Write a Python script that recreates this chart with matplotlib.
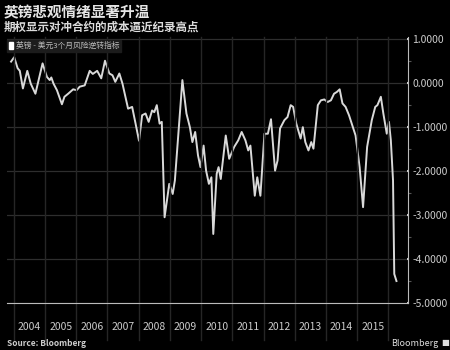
import numpy as np
import matplotlib
matplotlib.use("Agg")
import matplotlib.pyplot as plt
from matplotlib.patches import Patch
from matplotlib.ticker import MultipleLocator, FixedLocator

plt.rcParams['font.family'] = ['Noto Sans CJK SC', 'DejaVu Sans']

title = "英镑悲观情绪显著升温"
subtitle = "期权显示对冲合约的成本逼近纪录高点"
series_name = "英镑 - 美元3个月风险逆转指标"
source = "Source: Bloomberg"

years = [2004, 2005, 2006, 2007, 2008, 2009, 2010, 2011, 2012, 2013, 2014, 2015]

# decimal year, value
t = [2003.91, 2004.01, 2004.12, 2004.19, 2004.29, 2004.43, 2004.54, 2004.69, 2004.92,
     2005.06, 2005.15, 2005.20, 2005.27, 2005.38, 2005.54, 2005.62, 2005.74, 2005.90,
     2006.01, 2006.11, 2006.27, 2006.43, 2006.53, 2006.67, 2006.80, 2006.92,
     2007.06, 2007.16, 2007.25, 2007.38, 2007.48, 2007.66, 2007.79, 2007.90,
     2008.01, 2008.11, 2008.22, 2008.32, 2008.43, 2008.50, 2008.58, 2008.67, 2008.74,
     2008.83, 2008.98, 2009.09, 2009.16, 2009.40, 2009.53, 2009.64, 2009.72, 2009.81,
     2009.90, 2009.98, 2010.08, 2010.16, 2010.25, 2010.33, 2010.39, 2010.50, 2010.56,
     2010.63, 2010.79, 2010.90, 2011.06, 2011.19, 2011.30, 2011.42, 2011.51, 2011.58,
     2011.72, 2011.80, 2011.90, 2012.03, 2012.14, 2012.24, 2012.37, 2012.45, 2012.53,
     2012.67, 2012.77, 2012.87, 2012.95, 2013.05, 2013.19, 2013.26, 2013.34, 2013.44,
     2013.53, 2013.60, 2013.74, 2013.84, 2013.95, 2014.05, 2014.16, 2014.26, 2014.35,
     2014.44, 2014.53, 2014.63, 2014.74, 2014.95, 2015.08, 2015.19, 2015.32, 2015.47,
     2015.58, 2015.65, 2015.76, 2015.84, 2015.95, 2016.02, 2016.08, 2016.15, 2016.19,
     2016.26]
v = [0.49, 0.59, 0.34, 0.28, -0.12, 0.28, -0.01, -0.24, 0.45,
     0.14, 0.07, 0.13, -0.01, -0.16, -0.48, -0.31, -0.24, -0.14,
     -0.16, -0.08, -0.05, 0.28, 0.21, 0.28, 0.11, 0.51,
     0.22, 0.18, 0.03, 0.22, -0.01, -0.58, -0.54, -0.92,
     -1.31, -0.73, -0.69, -0.88, -0.62, -0.66, -0.50, -0.92, -0.88,
     -3.05, -2.29, -2.52, -2.21, 0.07, -0.69, -1.00, -1.34, -1.11,
     -1.64, -1.91, -1.42, -1.99, -2.29, -2.14, -3.43, -2.06, -1.91,
     -2.18, -1.19, -1.72, -1.45, -1.30, -1.11, -1.30, -1.53, -1.42,
     -2.56, -2.14, -2.56, -1.15, -1.15, -0.82, -1.99, -1.76, -1.03,
     -0.84, -0.77, -0.50, -0.54, -0.92, -1.26, -1.00, -1.34, -1.53,
     -1.34, -1.49, -0.50, -0.39, -0.37, -0.43, -0.39, -0.24, -0.20,
     -0.14, -0.46, -0.54, -0.73, -1.19, -1.91, -2.82, -1.45, -0.84,
     -0.54, -0.50, -0.31, -0.69, -1.15, -0.88, -1.30, -2.21, -4.34,
     -4.50]

fig = plt.figure(figsize=(4.5, 3.5), dpi=100, facecolor='black')
ax = fig.add_axes([7 / 450, 1 - 303 / 350, 401 / 450, 266 / 350])
ax.set_facecolor('black')

ax.plot(t, v, color='#d9d9d9', lw=1.4, solid_joinstyle='round')

ax.set_xlim(2003.78, 2016.63)
ax.set_ylim(-5, 1.05)

ax.yaxis.tick_right()
ax.yaxis.set_major_locator(FixedLocator(np.arange(-5, 1.01, 1)))
ax.yaxis.set_minor_locator(MultipleLocator(0.5))
ax.set_yticklabels([f"{x:.4f}" for x in np.arange(-5, 1.01, 1)])
ax.tick_params(axis='y', which='major', colors='#cccccc', labelsize=7.5,
               length=2, width=1.5, pad=2, direction='inout')
ax.tick_params(axis='y', which='minor', colors='#555555', length=2, width=0.8)

# vertical year boundaries, labels centred between
ax.set_xticks(years + [2016])
ax.set_xticklabels([])
ax.tick_params(axis='x', length=0)
for y in years:
    ax.text(y + 0.5, -0.092, str(y), transform=ax.get_xaxis_transform(),
            ha='center', va='center', color='#cccccc', fontsize=7.5)
for y in years + [2016]:
    ax.axvline(y, ymin=-0.14, ymax=1, color='#262626', lw=1, clip_on=False)

ax.grid(axis='y', which='major', color='#2e2e2e', lw=0.9)

for s in ['top', 'left']:
    ax.spines[s].set_visible(False)
ax.spines['right'].set_color('#bbbbbb')
ax.spines['bottom'].set_color('#bbbbbb')

handle = Patch(facecolor='white', edgecolor='white')
leg = ax.legend([handle], [series_name], loc='upper left', bbox_to_anchor=(0.0, 0.99),
                frameon=True, fontsize=5.6, handlelength=0.55, handleheight=1.1,
                borderpad=0.25, handletextpad=0.35, borderaxespad=0.0)
leg.get_frame().set_facecolor('#1c1c1c')
leg.get_frame().set_edgecolor('#1c1c1c')
leg.get_frame().set_alpha(1)
leg.get_frame().set_boxstyle('square', pad=0)
for txt in leg.get_texts():
    txt.set_color('#bbbbbb')

fig.text(0.008, 1 - 12 / 350, title, color='#e6e6e6', fontsize=10.5,
         fontweight='bold', va='center', ha='left')
fig.text(0.008, 1 - 27 / 350, subtitle, color='#dddddd', fontsize=8.3,
         fontweight='bold', va='center', ha='left')
fig.text(0.015, 1 - 343 / 350, source, color='#cccccc', fontsize=6,
         fontweight='bold', va='center', ha='left')
fig.text(0.975, 1 - 343 / 350, "Bloomberg", color='#dddddd', fontsize=6.5,
         va='center', ha='right')
fig.text(0.98, 1 - 343 / 350, "■", color='#dddddd', fontsize=6,
         va='center', ha='left', family='DejaVu Sans')

fig.savefig("out.png", dpi=100, facecolor='black')
